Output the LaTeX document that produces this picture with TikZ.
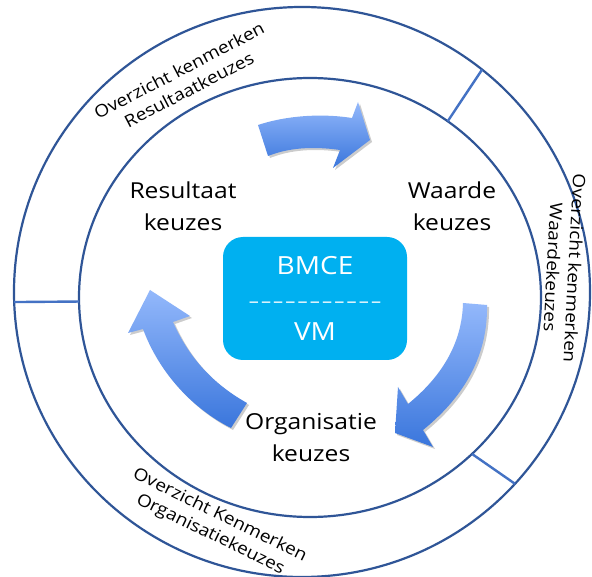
\documentclass[tikz,border=0pt]{standalone}
\usepackage{fontspec}
\setmainfont{Open Sans}[FakeStretch=1.12]
\usetikzlibrary{shapes.geometric,shadows}
\definecolor{ringblue}{HTML}{2F5597}
\definecolor{divblue}{HTML}{4472C4}
\definecolor{boxblue}{HTML}{00B0F0}
\definecolor{arrowlight}{HTML}{93B8FB}
\definecolor{arrowdark}{HTML}{3A76DC}
\tikzset{
  ring/.style={ellipse, draw=ringblue, line width=2.2pt, inner sep=0pt, outer sep=0pt},
  divider/.style={draw=divblue, line width=2.4pt},
  cyclearrow/.style={top color=arrowlight, bottom color=arrowdark, draw=none,
    drop shadow={shadow xshift=2pt, shadow yshift=-2pt, opacity=0.2, fill=black}},
  choice/.style={align=center, inner sep=0pt, font=\fontsize{22}{32}\selectfont},
  ringlabel/.style={align=center, inner sep=0pt, font=\fontsize{17}{21.5}\selectfont},
  corebox/.style={fill=boxblue, rounded corners=20pt, minimum width=184pt, minimum height=123pt,
    text=white, align=center, inner sep=0pt, font=\fontsize{25}{33}\selectfont}
}
\newcommand\dashrow{{\fontsize{18}{33}\selectfont\addfontfeature{LetterSpace=12}–––––––––––}}
\begin{document}
\begin{tikzpicture}[x=1pt,y=-1pt]
\useasboundingbox (0,0) rectangle (592,577);
\fill[white] (0,0) rectangle (592,577);
% rings
\node[ring, minimum width=576pt, minimum height=570pt] (outer) at (302,292) {};
\node[ring, minimum width=462pt, minimum height=439pt] (inner) at (310,297.5) {};
% dividers
\draw[divider] (inner.52.7) -- (outer.51.7);
\draw[divider] (inner.-44) -- (outer.-42);
\draw[divider] (inner.181.4) -- (outer.182.2);
% arrows
\path[cyclearrow] (258,125) .. controls (285,116) and (320,113) .. (352,118)
  -- (358,102) -- (370,140) -- (333,168) -- (340,150)
  .. controls (312,146) and (288,148) .. (268,156) -- cycle;
\path[cyclearrow] (463,303) -- (487,305) .. controls (488,360) and (460,400) .. (423,430)
  -- (433,447) -- (395,433) -- (398,387) -- (408,404)
  .. controls (440,378) and (462,345) .. (463,303) -- cycle;
\path[cyclearrow] (247,403) -- (231,428) .. controls (195,410) and (160,375) .. (143,329)
  -- (128,333) -- (150,290) -- (190,316) -- (173,322)
  .. controls (190,360) and (215,385) .. (247,403) -- cycle;
% center box
\node[corebox] (core) at (315,298.5) {BMCE\\\dashrow\\VM};
% choices
\node[choice] (result) at (183,206) {Resultaat\\keuzes};
\node[choice] (value) at (452,206) {Waarde\\keuzes};
\node[choice] (org) at (311,438) {Organisatie\\keuzes};
% ring labels
\node[ringlabel, rotate=27.5] (lblresult) at (184,80) {Overzicht kenmerken\\Resultaatkeuzes};
\node[ringlabel, rotate=-93] (lblvalue) at (564,268) {Overzicht kenmerken\\Waardekeuzes};
\node[ringlabel, rotate=-26] (lblorg) at (215,525) {Overzicht Kenmerken\\Organisatiekeuzes};
\end{tikzpicture}
\end{document}
